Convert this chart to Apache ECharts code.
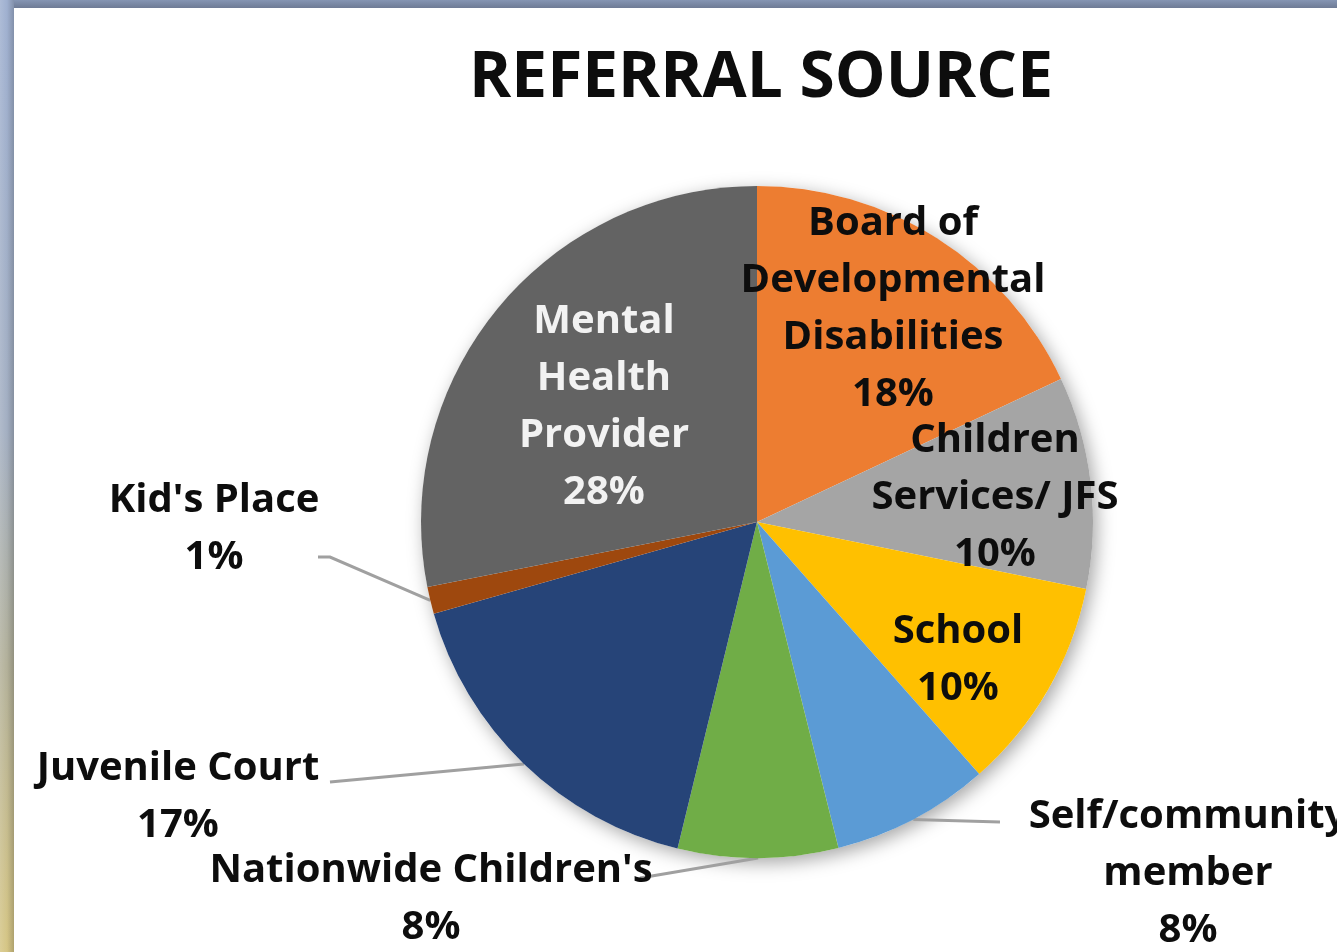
<!DOCTYPE html>
<html>
<head>
<meta charset="utf-8">
<title>Referral Source</title>
<script src="https://cdn.jsdelivr.net/npm/echarts@6/dist/echarts.min.js"></script>
<style>
  html, body { margin: 0; padding: 0; background: #fff; overflow: hidden; }
  #chart { position: absolute; left: 0; top: 0; width: 1337px; height: 952px; }
  /* slide frame on the left and top */
  .frame-left {
    position: absolute; left: 0; top: 0; width: 14px; height: 952px; z-index: 2;
    background:
      linear-gradient(to right, rgba(255,255,255,0.15), rgba(0,0,0,0) 50%, rgba(0,0,0,0.18)),
      linear-gradient(to bottom, #9fb0d0 0%, #a3afc2 45%, #b3b19a 70%, #d6c685 100%);
  }
  .frame-top {
    position: absolute; left: 0; top: 0; width: 1337px; height: 8px; z-index: 1;
    background: linear-gradient(to bottom, #8595b3, #6e7b95);
  }
</style>
</head>
<body>
<div id="chart"></div>
<div class="frame-top"></div>
<div class="frame-left"></div>
<script>
// categories, clockwise from 12 o'clock (line breaks as in the slide)
const categories = [
  'Board of\nDevelopmental\nDisabilities',
  'Children\nServices/ JFS',
  'School',
  'Self/community\nmember',
  "Nationwide Children's",
  'Juvenile Court',
  "Kid's Place",
  'Mental\nHealth\nProvider'
];
// share of referrals, % (labels show them rounded)
const values = [18.0, 10.2, 10.3, 7.6, 7.7, 16.8, 1.3, 28.1];
const colors = ['#ED7D31', '#A5A5A5', '#FFC000', '#5B9BD5', '#70AD47', '#264478', '#9E480E', '#636363'];
// which labels sit inside the slice
const insideLabel = [true, true, true, false, false, false, false, true];
// label centres (px) as placed on the slide
const labelAt = [
  [893, 309], [995, 498], [958, 660], [1188, 874],
  [431, 899], [178, 797], [214, 529], [604, 407]
];
// where the leader lines meet the outside labels
const lineEnd = {
  3: [[1000, 822]],
  4: [[640, 878]],
  5: [[330, 782]],
  6: [[330, 557], [318, 557]]
};

const cx = 757, cy = 522, R = 336;

const mychart = echarts.init(document.getElementById('chart'));

const data = values.map((v, i) => ({
  name: categories[i],
  value: v,
  itemStyle: { color: colors[i] },
  label: {
    position: insideLabel[i] ? 'inside' : 'outside',
    color: i === 7 ? '#f2f2f2' : '#0d0d0d'
  },
  labelLine: { show: !insideLabel[i] }
}));

mychart.setOption({
  animation: false,
  backgroundColor: '#fff',
  title: {
    text: 'REFERRAL SOURCE',
    left: 756,
    top: 38,
    textAlign: 'center',
    textStyle: {
      fontFamily: 'Open Sans',
      fontWeight: 'bold',
      fontSize: 64,
      lineHeight: 72,
      color: '#0d0d0d'
    }
  },
  series: [
    {
      // soft drop shadow behind the pie
      type: 'pie',
      silent: true,
      center: [cx, cy],
      radius: R,
      z: 1,
      label: { show: false },
      labelLine: { show: false },
      data: [{
        value: 1,
        itemStyle: {
          color: '#fff',
          shadowBlur: 18,
          shadowOffsetX: 4,
          shadowOffsetY: 5,
          shadowColor: 'rgba(0,0,0,0.35)'
        }
      }]
    },
    {
      type: 'pie',
      center: [cx, cy],
      radius: R,
      startAngle: 90,
      clockwise: true,
      z: 2,
      avoidLabelOverlap: false,
      itemStyle: { borderWidth: 0 },
      label: {
        show: true,
        fontFamily: 'Open Sans',
        fontWeight: 'bold',
        fontSize: 40,
        lineHeight: 57,
        align: 'center',
        formatter: p => p.name + '\n' + Math.round(p.value) + '%'
      },
      labelLine: {
        length: 20,
        length2: 20,
        lineStyle: { color: '#A0A0A0', width: 3 }
      },
      labelLayout: params => {
        const i = params.dataIndex;
        const pos = labelAt[i];
        const out = {
          x: pos[0],
          y: pos[1],
          align: 'center',
          verticalAlign: 'middle'
        };
        // keep the anchor on the slice edge, end the line beside the label
        if (lineEnd[i] && params.labelLinePoints) {
          out.labelLinePoints = [params.labelLinePoints[0]].concat(lineEnd[i]);
        }
        return out;
      },
      data: data
    }
  ]
});
</script>
</body>
</html>
